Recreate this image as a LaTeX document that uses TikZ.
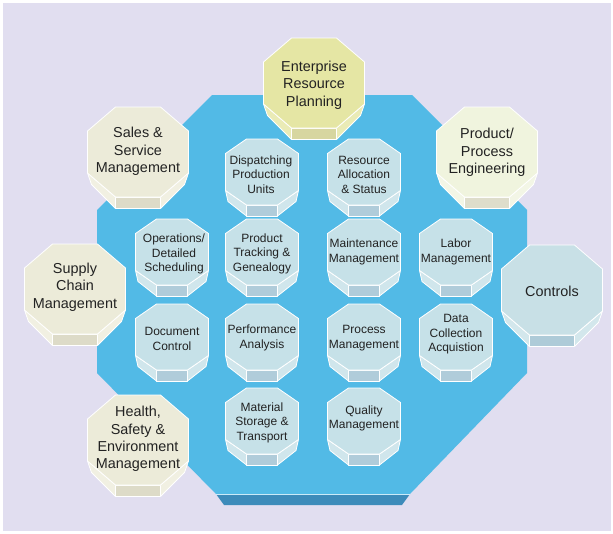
\documentclass[tikz,border=0pt]{standalone}
\usepackage{fontspec}
\setmainfont{Liberation Sans}
\usetikzlibrary{calc}
\definecolor{bgLav}{HTML}{E1DEF0}
\definecolor{bigBlue}{HTML}{52BAE6}
\definecolor{bigFront}{HTML}{3D8BBA}
\definecolor{txt}{HTML}{222222}
% inner (light blue)
\definecolor{inTop}{HTML}{C6E1E8}
\definecolor{inSide}{HTML}{D0E6EC}
\definecolor{inFront}{HTML}{B0CCDA}
% ERP (yellow green)
\definecolor{erTop}{HTML}{E5E6A4}
\definecolor{erSide}{HTML}{EAEBB6}
\definecolor{erFront}{HTML}{D7D6A0}
% cream
\definecolor{crTop}{HTML}{ECEBD9}
\definecolor{crSide}{HTML}{F1F0E2}
\definecolor{crFront}{HTML}{DDDBC8}
% product (light green cream)
\definecolor{prTop}{HTML}{F0F4DE}
\definecolor{prSide}{HTML}{F3F6E6}
\definecolor{prFront}{HTML}{DEDDCB}
% controls
\definecolor{coTop}{HTML}{C8E0E6}
\definecolor{coSide}{HTML}{D3E7EC}
\definecolor{coFront}{HTML}{AECBD8}
% #1 cx, #2 cy, #3 w, #4 h, #5 hcut, #6 vcut, #7 depth, #8 inset, #9 colour prefix
\newcommand{\octprism}[9]{%
\pgfmathsetmacro{\octHA}{#3/2}\pgfmathsetmacro{\octHB}{#4/2}%
\coordinate (P1) at ({#1-\octHA+#5},{#2-\octHB});
\coordinate (P2) at ({#1+\octHA-#5},{#2-\octHB});
\coordinate (P3) at ({#1+\octHA},{#2-\octHB+#6});
\coordinate (P4) at ({#1+\octHA},{#2+\octHB-#6});
\coordinate (P5) at ({#1+\octHA-#5},{#2+\octHB});
\coordinate (P6) at ({#1-\octHA+#5},{#2+\octHB});
\coordinate (P7) at ({#1-\octHA},{#2+\octHB-#6});
\coordinate (P8) at ({#1-\octHA},{#2-\octHB+#6});
\draw[edge, fill=#9Side] (P4) -- (P5) -- ($(P5)+(0,#7)$) -- ($(P4)+(-#8,#7)$) -- cycle;
\draw[edge, fill=#9Side] (P6) -- (P7) -- ($(P7)+(#8,#7)$) -- ($(P6)+(0,#7)$) -- cycle;
\draw[edge, fill=#9Front] (P5) -- (P6) -- ($(P6)+(0,#7)$) -- ($(P5)+(0,#7)$) -- cycle;
\draw[edge, fill=#9Top] (P1) -- (P2) -- (P3) -- (P4) -- (P5) -- (P6) -- (P7) -- (P8) -- cycle;
}
\newcommand{\innerOct}[3]{\octprism{#1}{#2}{73}{66}{21}{14.5}{11}{2.5}{#3}}
\newcommand{\outerOct}[3]{\octprism{#1}{#2}{101}{90}{28}{24}{11.5}{4}{#3}}
\tikzset{
  edge/.style={draw=white, line width=0.8pt, line join=round},
  intext/.style={align=center, text=txt, inner sep=0pt, font=\fontsize{12}{14.5}\selectfont},
  outtext/.style={align=center, text=txt, inner sep=0pt, font=\fontsize{14.4}{17.3}\selectfont},
}
\begin{document}
\begin{tikzpicture}[x=1pt, y=-1pt]
\useasboundingbox (0,0) rectangle (613,533);
\fill[white] (0,0) rectangle (613,533);
\fill[bgLav] (3,3) rectangle (611,531);
% big blue octagon
\fill[bigFront] (216,494) -- (410,494) -- (402,505) -- (224,505) -- cycle;
\fill[bigBlue] (212,95) -- (412,95) -- (527,210) -- (527,373) -- (410,494) -- (216,494) -- (97,373) -- (97,210) -- cycle;
\draw[white!70!bigBlue, line width=0.6pt] (216,494.3) -- (410,494.3);
% inner octagons
\innerOct{262}{172}{in}
\innerOct{364}{172}{in}
\innerOct{172}{252}{in}
\innerOct{262}{252}{in}
\innerOct{364}{252}{in}
\innerOct{456}{252}{in}
\innerOct{172}{337}{in}
\innerOct{262}{337}{in}
\innerOct{364}{337}{in}
\innerOct{456}{337}{in}
\innerOct{262}{421}{in}
\innerOct{364}{421}{in}
% outer octagons
\outerOct{314}{83}{er}
\outerOct{138}{152}{cr}
\outerOct{487}{152}{pr}
\outerOct{75}{289}{cr}
\outerOct{552}{290}{co}
\outerOct{138}{440}{cr}
% inner texts
\node[intext] (disp) at (261,174.5) {Dispatching\\Production\\Units};
\node[intext] (resa) at (364,174.5) {Resource\\Allocation\\\& Status};
\node[intext] (oper) at (174,254) {Operations/\\Detailed\\Scheduling};
\node[intext] (prtr) at (262,253.5) {Product\\Tracking \&\\Genealogy};
\node[intext] (mant) at (364,252) {Maintenance\\Management};
\node[intext] (labr) at (456,252) {Labor\\Management};
\node[intext] (docc) at (172,339) {Document\\Control};
\node[intext] (perf) at (262,338) {Performance\\Analysis};
\node[intext] (proc) at (364,338) {Process\\Management};
\node[intext] (datc) at (456,334.5) {Data\\Collection\\Acquistion};
\node[intext] (mats) at (262,422.5) {Material\\Storage \&\\Transport};
\node[intext] (qual) at (364,418.5) {Quality\\Management};
% outer texts
\node[outtext] (erp) at (314,85) {Enterprise\\Resource\\Planning};
\node[outtext] (sales) at (138,151.5) {Sales \&\\Service\\Management};
\node[outtext] (ppe) at (487,152.5) {Product/\\Process\\Engineering};
\node[outtext] (scm) at (75,287) {Supply\\Chain\\Management};
\node[outtext] (ctrl) at (552,291) {Controls};
\node[outtext] (hse) at (138,439) {Health,\\Safety \&\\Environment\\Management};
\end{tikzpicture}
\end{document}
